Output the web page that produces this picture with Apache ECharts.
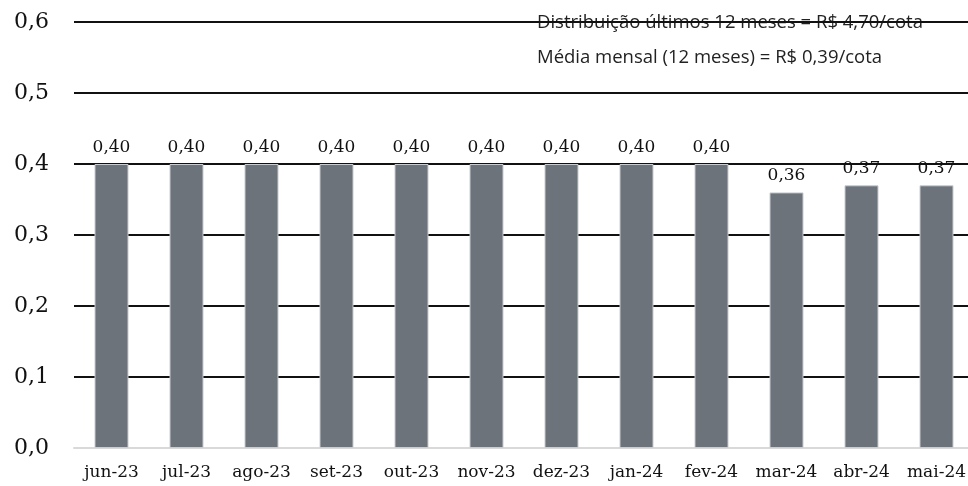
<!DOCTYPE html>
<html>
<head>
<meta charset="utf-8">
<script src="https://cdn.jsdelivr.net/npm/echarts@6/dist/echarts.min.js"></script>
<style>
  html, body { margin: 0; padding: 0; background: #fff; overflow: hidden; }
  #chart { width: 974px; height: 486px; }
</style>
</head>
<body>
<div id="chart"></div>
<script>
  // meses e distribuição por cota (R$)
  var months = ['jun-23', 'jul-23', 'ago-23', 'set-23', 'out-23', 'nov-23',
                'dez-23', 'jan-24', 'fev-24', 'mar-24', 'abr-24', 'mai-24'];
  var values = [0.40, 0.40, 0.40, 0.40, 0.40, 0.40, 0.40, 0.40, 0.40, 0.36, 0.37, 0.37];
  var notes = [
    'Distribuição últimos 12 meses = R$ 4,70/cota',
    'Média mensal (12 meses) = R$ 0,39/cota'
  ];

  var chart = echarts.init(document.getElementById('chart'));
  chart.setOption({
    animation: false,
    grid: { left: 74, right: 0, top: 22, bottom: 38 },
    graphic: [
      {
        type: 'text', left: 537, top: 13, z: -1,
        style: { text: notes[0], fontFamily: 'Open Sans', fontSize: 18.5, fill: '#222' }
      },
      {
        type: 'text', left: 537, top: 48, z: -1,
        style: { text: notes[1], fontFamily: 'Open Sans', fontSize: 18.5, fill: '#222' }
      }
    ],
    xAxis: {
      type: 'category',
      data: months,
      axisLine: { lineStyle: { color: '#d9d9d9', width: 2 } },
      axisTick: { show: false },
      axisLabel: { interval: 0, color: '#111', fontFamily: 'DejaVu Serif', fontSize: 17, margin: 16 }
    },
    yAxis: {
      type: 'value',
      min: 0,
      max: 0.6,
      interval: 0.1,
      axisLine: { show: false },
      axisTick: { show: false },
      splitLine: { lineStyle: { color: '#111', width: 2 } },
      axisLabel: {
        color: '#111', fontFamily: 'DejaVu Serif', fontSize: 22, margin: 25,
        formatter: function (v) { return v.toFixed(1).replace('.', ','); }
      }
    },
    series: [{
      type: 'bar',
      data: values,
      barWidth: 34,
      itemStyle: { color: '#6c737a', borderColor: '#c9ccd0', borderWidth: 1 },
      label: {
        show: true,
        position: 'top',
        distance: 8,
        color: '#111',
        fontFamily: 'DejaVu Serif',
        fontSize: 17,
        formatter: function (p) { return p.value.toFixed(2).replace('.', ','); }
      }
    }]
  });
</script>
</body>
</html>
